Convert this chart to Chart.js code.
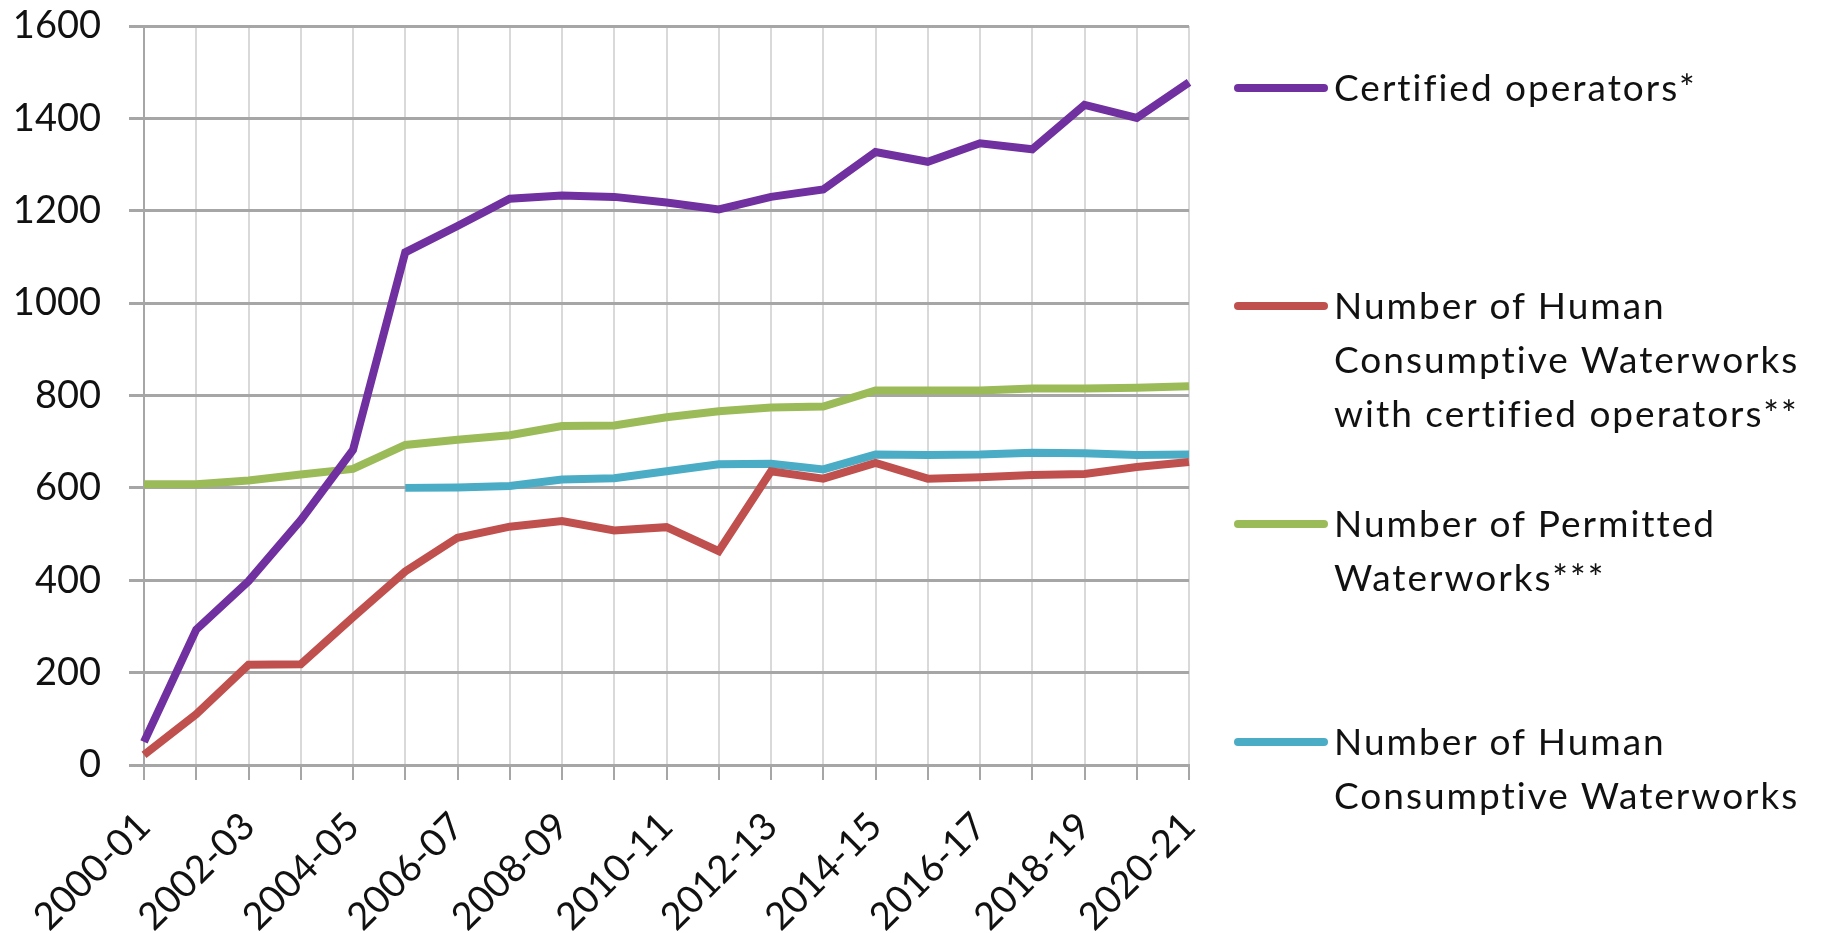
<!DOCTYPE html>
<html>
<head>
<meta charset="utf-8">
<script src="https://cdn.jsdelivr.net/npm/chart.js@4/dist/chart.umd.min.js"></script>
<style>
  html, body { margin: 0; padding: 0; background: #fff; }
  #wrap { position: relative; width: 1832px; height: 933px; }
  #chart { position: absolute; left: 0; top: 0; }
  #legend { position: absolute; left: 0; top: 0; font-family: Lato, sans-serif; font-size: 37px; letter-spacing: 2px; color: #111; }
  .item { position: absolute; left: 1234px; }
  .swatch { position: absolute; left: 0; width: 94px; height: 8px; border-radius: 4px; top: 24px; }
  .txt { position: absolute; left: 100px; line-height: 54px; white-space: nowrap; }
</style>
</head>
<body>
<div id="wrap">
  <canvas id="chart" width="1832" height="933"></canvas>
  <div id="legend"></div>
</div>
<script>
// data
const years = ['2000-01', '2001-02', '2002-03', '2003-04', '2004-05', '2005-06', '2006-07',
  '2007-08', '2008-09', '2009-10', '2010-11', '2011-12', '2012-13', '2013-14', '2014-15',
  '2015-16', '2016-17', '2017-18', '2018-19', '2019-20', '2020-21'];

const certifiedOperators = [50, 293, 398, 530, 682, 1110, 1167, 1226, 1233, 1230, 1218,
  1203, 1230, 1246, 1327, 1306, 1346, 1333, 1429, 1401, 1478];
const hcwWithOperators = [22, 110, 217, 218, 320, 419, 492, 516, 528, 508, 515,
  463, 636, 620, 654, 620, 623, 628, 630, 645, 656];
const permittedWaterworks = [608, 608, 616, 629, 641, 693, 704, 714, 734, 735, 753,
  766, 774, 776, 811, 811, 811, 815, 815, 817, 820];
const hcWaterworks = [null, null, null, null, null, 600, 601, 604, 618, 621, 636,
  651, 652, 640, 672, 671, 672, 676, 675, 671, 672];

const seriesNames = [
  ['Certified operators*'],
  ['Number of Human', 'Consumptive Waterworks', 'with certified operators**'],
  ['Number of Permitted', 'Waterworks***'],
  ['Number of Human', 'Consumptive Waterworks']
];
const colors = ['#7030A0', '#C0504D', '#9BBB59', '#4BACC6'];
const yTicks = [0, 200, 400, 600, 800, 1000, 1200, 1400, 1600];

const allSeries = [certifiedOperators, hcwWithOperators, permittedWaterworks, hcWaterworks];

const font = { family: 'Lato, sans-serif', size: 38 };

const chart = new Chart(document.getElementById('chart'), {
  type: 'line',
  data: {
    labels: years,
    datasets: allSeries.map((d, i) => ({
      label: seriesNames[i].join(' '),
      data: d,
      borderColor: colors[i],
      backgroundColor: colors[i],
      borderWidth: 8,
      pointRadius: 0,
      tension: 0,
      spanGaps: false
    }))
  },
  options: {
    responsive: false,
    animation: false,
    layout: { padding: { top: 26, right: 643, left: 0, bottom: 0 } },
    plugins: { legend: { display: false }, tooltip: { enabled: false } },
    scales: {
      x: {
        offset: false,
        grid: { color: '#d9d9d9', lineWidth: 2, tickLength: 15, tickColor: '#a6a6a6' },
        border: { color: '#a6a6a6', width: 2 },
        ticks: {
          autoSkip: false, maxRotation: 45, minRotation: 45, color: '#111', font: font, padding: 24,
          callback: function (v, i) { return i % 2 === 0 ? years[i] : ''; }
        },
        afterFit: function (s) { s.height = 168; }
      },
      y: {
        min: 0, max: 1600,
        afterBuildTicks: function (s) { s.ticks = yTicks.map(v => ({ value: v })); },
        grid: { color: '#a6a6a6', lineWidth: 3, tickLength: 15 },
        border: { color: '#a6a6a6', width: 2 },
        ticks: { color: '#111', font: font, padding: 28, callback: v => String(v) },
        afterFit: function (s) {
          s.width = 144;
          s.paddingTop = 0;
          s.paddingBottom = 0;
        }
      }
    }
  }
});

// legend as html text on the right
const legendTops = [60, 278, 496, 714];
const legend = document.getElementById('legend');
seriesNames.forEach((lines, i) => {
  const item = document.createElement('div');
  item.className = 'item';
  item.style.top = legendTops[i] + 'px';
  const sw = document.createElement('div');
  sw.className = 'swatch';
  sw.style.background = colors[i];
  const t = document.createElement('div');
  t.className = 'txt';
  t.innerHTML = lines.join('<br>');
  item.appendChild(sw);
  item.appendChild(t);
  legend.appendChild(item);
});
</script>
</body>
</html>
